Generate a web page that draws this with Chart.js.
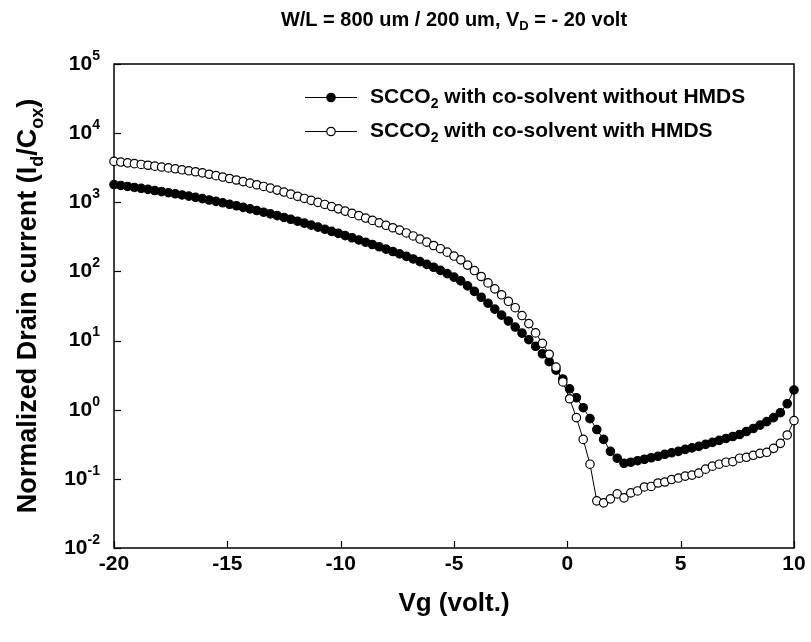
<!DOCTYPE html>
<html>
<head>
<meta charset="utf-8">
<script src="https://cdn.jsdelivr.net/npm/chart.js@4.4.1/dist/chart.umd.min.js"></script>
<style>
  html, body { margin: 0; padding: 0; background: #fff; }
  #wrap { width: 811px; height: 642px; }
</style>
</head>
<body>
<div id="wrap"><canvas id="idvgChart" width="811" height="642"></canvas></div>
<script>
// Gate voltage sweep (V), 0.3 V step
const vg = [
  -20, -19.7, -19.4, -19.1, -18.8, -18.5, -18.2, -17.9, -17.6, -17.3,
  -17, -16.7, -16.4, -16.1, -15.8, -15.5, -15.2, -14.9, -14.6, -14.3,
  -14, -13.7, -13.4, -13.1, -12.8, -12.5, -12.2, -11.9, -11.6, -11.3,
  -11, -10.7, -10.4, -10.1, -9.8, -9.5, -9.2, -8.9, -8.6, -8.3,
  -8, -7.7, -7.4, -7.1, -6.8, -6.5, -6.2, -5.9, -5.6, -5.3,
  -5, -4.7, -4.4, -4.1, -3.8, -3.5, -3.2, -2.9, -2.6, -2.3,
  -2, -1.7, -1.4, -1.1, -0.8, -0.5, -0.2, 0.1, 0.4, 0.7,
  1, 1.3, 1.6, 1.9, 2.2, 2.5, 2.8, 3.1, 3.4, 3.7,
  4, 4.3, 4.6, 4.9, 5.2, 5.5, 5.8, 6.1, 6.4, 6.7,
  7, 7.3, 7.6, 7.9, 8.2, 8.5, 8.8, 9.1, 9.4, 9.7,
  10
];

// Normalized drain current Id/Cox, co-solvent without HMDS
const idWithoutHmds = [
  1805, 1752, 1695, 1640, 1587, 1536, 1481, 1428, 1377, 1328,
  1276, 1227, 1179, 1130, 1079, 1030, 983, 936, 891, 845,
  802, 760, 719, 680, 641, 604, 567, 533, 499, 467,
  437, 408, 380, 355, 330, 307, 285.5, 264.6, 245.3, 227.3,
  210.1, 194.1, 179.3, 165.1, 151.5, 138.6, 126.4, 114.9, 103.7, 93.0,
  82.6, 72.9, 61.8, 51.5, 42.3, 34.7, 28.5, 23.3, 19.2, 15.7,
  12.8, 10.3, 8.26, 6.45, 4.95, 3.74, 2.78, 2.00, 1.49, 1.07,
  0.743, 0.517, 0.372, 0.250, 0.199, 0.168, 0.174, 0.183, 0.192, 0.202,
  0.212, 0.227, 0.238, 0.250, 0.267, 0.281, 0.295, 0.315, 0.337, 0.360,
  0.384, 0.410, 0.438, 0.484, 0.534, 0.599, 0.673, 0.768, 0.906, 1.22,
  1.93
];

// Normalized drain current Id/Cox, co-solvent with HMDS
const idWithHmds = [
  3905, 3816, 3717, 3620, 3526, 3434, 3333, 3236, 3141, 3049,
  2951, 2855, 2763, 2664, 2543, 2429, 2319, 2207, 2101, 1993,
  1890, 1793, 1695, 1603, 1501, 1405, 1311, 1223, 1137, 1065,
  997, 930, 868, 804, 746, 691, 641, 592, 547, 505,
  465, 428, 396, 360, 326, 294, 265, 237, 213, 190,
  167, 147, 123.5, 103.0, 84.5, 68.2, 56.0, 45.9, 37.0, 29.9,
  23.0, 17.6, 12.9, 9.12, 6.34, 4.13, 2.52, 1.44, 0.768, 0.372,
  0.163, 0.0481, 0.0450, 0.0514, 0.0606, 0.0531, 0.0626, 0.0669, 0.0763, 0.0776,
  0.0871, 0.0900, 0.0977, 0.1027, 0.1097, 0.1133, 0.1210, 0.1381, 0.1526, 0.163,
  0.174, 0.177, 0.199, 0.205, 0.219, 0.234, 0.242, 0.276, 0.326, 0.431,
  0.696
];

const xTicks = [-20, -15, -10, -5, 0, 5, 10];
const yExponents = [-2, -1, 0, 1, 2, 3, 4, 5];

const FONT = '"Liberation Sans", Arial, Helvetica, sans-serif';
const MARK_R = 4.2;

// text pieces: [string, 'sub' | 'sup' | null]
const titleParts = [['W/L = 800 um / 200 um, V', null], ['D', 'sub'], [' = - 20 volt', null]];
const xTitleParts = [['Vg (volt.)', null]];
const yTitleParts = [['Normalized Drain current (I', null], ['d', 'sub'], ['/C', null], ['ox', 'sub'], [')', null]];
const legendWithout = [['SCCO', null], ['2', 'sub'], [' with co-solvent without HMDS', null]];
const legendWith = [['SCCO', null], ['2', 'sub'], [' with co-solvent with HMDS', null]];

function toPoints(xs, ys) {
    return xs.map((x, i) => ({ x: x, y: ys[i] }));
}

function richWidth(ctx, parts, size) {
    let w = 0;
    parts.forEach(([t, mode]) => {
        ctx.font = `bold ${mode ? Math.round(size * 0.66) : size}px ${FONT}`;
        w += ctx.measureText(t).width;
    });
    return w;
}

function drawRich(ctx, parts, x, y, size, align) {
    const w = richWidth(ctx, parts, size);
    let cx = align === 'center' ? x - w / 2 : (align === 'right' ? x - w : x);
    ctx.textBaseline = 'middle';
    ctx.textAlign = 'left';
    parts.forEach(([t, mode]) => {
        ctx.font = `bold ${mode ? Math.round(size * 0.66) : size}px ${FONT}`;
        let dy = 0;
        if (mode === 'sub') dy = size * 0.32;
        if (mode === 'sup') dy = -size * 0.36;
        ctx.fillText(t, cx, y + dy);
        cx += ctx.measureText(t).width;
    });
}

function drawMarker(ctx, x, y, filled) {
    ctx.beginPath();
    ctx.arc(x, y, MARK_R, 0, Math.PI * 2);
    ctx.fillStyle = filled ? '#000' : '#fff';
    ctx.fill();
    ctx.lineWidth = 1.2;
    ctx.strokeStyle = '#000';
    ctx.stroke();
}

// frame, inward ticks, labels, title and legend
const framePlugin = {
    id: 'frame',
    beforeDatasetsDraw(chart) {
        const { ctx, chartArea: a, scales } = chart;
        ctx.save();
        ctx.strokeStyle = '#000';
        ctx.lineWidth = 1.5;
        ctx.strokeRect(a.left, a.top, a.right - a.left, a.bottom - a.top);
        ctx.lineWidth = 1.2;
        xTicks.forEach(v => {
            const px = Math.round(scales.x.getPixelForValue(v)) + 0.5;
            ctx.beginPath();
            ctx.moveTo(px, a.bottom);
            ctx.lineTo(px, a.bottom - 7);
            ctx.stroke();
        });
        yExponents.forEach(e => {
            const py = Math.round(scales.y.getPixelForValue(Math.pow(10, e))) + 0.5;
            ctx.beginPath();
            ctx.moveTo(a.left, py);
            ctx.lineTo(a.left + 7, py);
            ctx.stroke();
        });
        ctx.restore();
    },
    afterDraw(chart) {
        const { ctx, chartArea: a, scales } = chart;
        ctx.save();
        ctx.fillStyle = '#000';

        xTicks.forEach(v => {
            drawRich(ctx, [[String(v), null]], scales.x.getPixelForValue(v), a.bottom + 16, 21, 'center');
        });
        yExponents.forEach(e => {
            const py = scales.y.getPixelForValue(Math.pow(10, e));
            const sup = Math.round(21 * 0.66);
            ctx.font = `bold ${sup}px ${FONT}`;
            const supW = ctx.measureText(String(e)).width;
            drawRich(ctx, [['10', null]], a.left - 14 - supW, py, 21, 'right');
            ctx.font = `bold ${sup}px ${FONT}`;
            ctx.textAlign = 'left';
            ctx.fillText(String(e), a.left - 14 - supW, py - 8);
        });

        drawRich(ctx, titleParts, (a.left + a.right) / 2, 20, 20, 'center');
        drawRich(ctx, xTitleParts, (a.left + a.right) / 2, a.bottom + 56, 26, 'center');

        ctx.save();
        ctx.translate(29, (a.top + a.bottom) / 2);
        ctx.rotate(-Math.PI / 2);
        drawRich(ctx, yTitleParts, 0, 0, 27, 'center');
        ctx.restore();

        // legend
        const rows = [[legendWithout, true, 97], [legendWith, false, 131]];
        rows.forEach(([parts, filled, y]) => {
            ctx.strokeStyle = '#000';
            ctx.lineWidth = 1;
            ctx.beginPath();
            ctx.moveTo(305, y + 0.5);
            ctx.lineTo(357, y + 0.5);
            ctx.stroke();
            drawMarker(ctx, 331, y + 0.5, filled);
            ctx.fillStyle = '#000';
            drawRich(ctx, parts, 370, y, 21, 'left');
        });
        ctx.restore();
    }
};

new Chart(document.getElementById('idvgChart'), {
    type: 'line',
    data: {
        datasets: [
            {
                label: 'SCCO2 with co-solvent with HMDS',
                data: toPoints(vg, idWithHmds),
                borderColor: '#000',
                borderWidth: 1,
                pointRadius: MARK_R,
                pointBackgroundColor: '#fff',
                pointBorderColor: '#000',
                pointBorderWidth: 1.2,
                tension: 0,
                clip: false,
                order: 1
            },
            {
                label: 'SCCO2 with co-solvent without HMDS',
                data: toPoints(vg, idWithoutHmds),
                borderColor: '#000',
                borderWidth: 1,
                pointRadius: MARK_R,
                pointBackgroundColor: '#000',
                pointBorderColor: '#000',
                pointBorderWidth: 1.2,
                tension: 0,
                clip: false,
                order: 2
            }
        ]
    },
    options: {
        responsive: false,
        animation: false,
        devicePixelRatio: 1,
        layout: { padding: { left: 114, right: 17, top: 64, bottom: 94 } },
        plugins: {
            legend: { display: false },
            tooltip: { enabled: false }
        },
        scales: {
            x: { type: 'linear', min: -20, max: 10, display: false },
            y: { type: 'logarithmic', min: 0.01, max: 100000, display: false }
        }
    },
    plugins: [framePlugin]
});
</script>
</body>
</html>
